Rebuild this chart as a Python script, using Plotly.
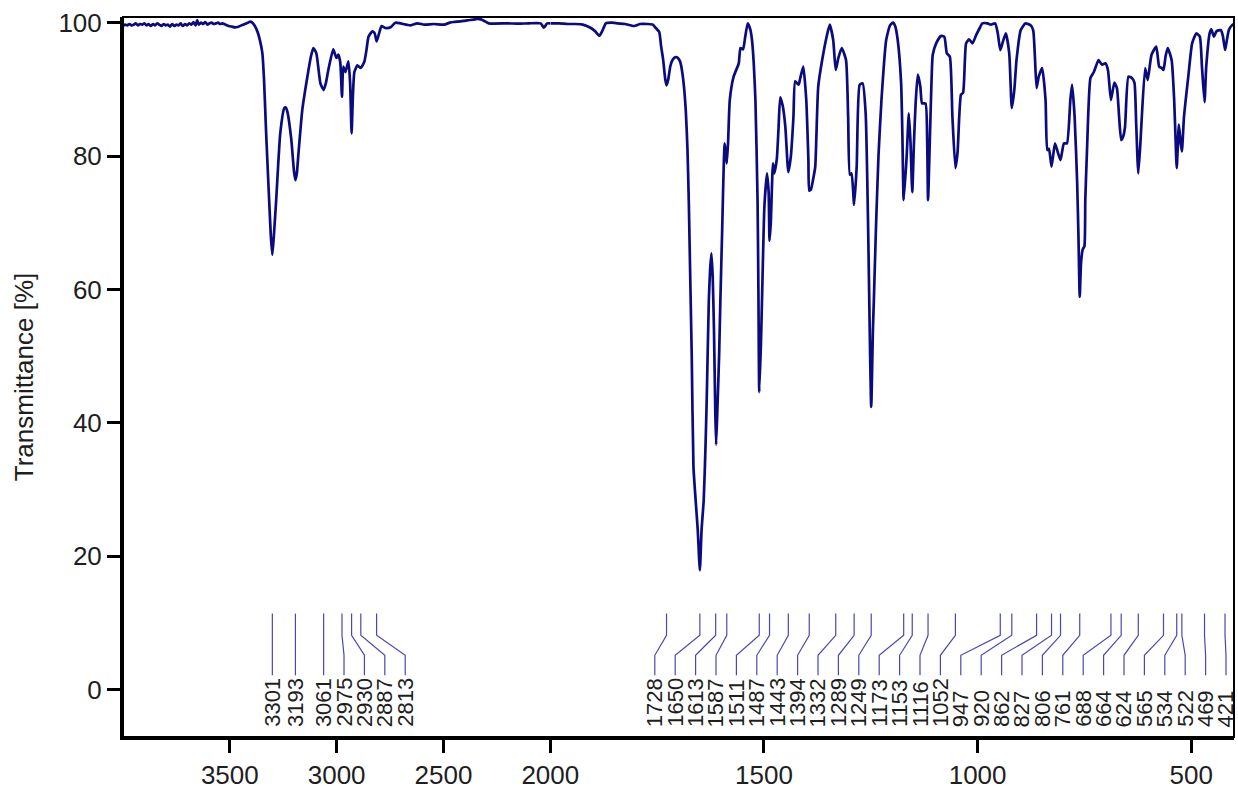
import plotly.graph_objects as go

# ---- spectrum (wavenumber in cm-1, transmittance in %) ----
wavenumber = [
    4000, 3990, 3980, 3970, 3960, 3950, 3940, 3930, 3920, 3910, 3900, 3890, 3880, 3870,
    3860, 3850, 3840, 3830, 3820, 3810, 3800, 3790, 3780, 3770, 3760, 3750, 3740, 3730,
    3720, 3710, 3700, 3690, 3680, 3670, 3660, 3653, 3645, 3635, 3625, 3615, 3605, 3595,
    3585, 3575, 3565, 3555, 3545, 3535, 3520, 3505, 3490, 3475, 3460, 3445, 3430, 3415,
    3405, 3395, 3385, 3375, 3367, 3358, 3348, 3340, 3330, 3316, 3308, 3301, 3294, 3283,
    3264, 3245, 3238, 3231, 3212, 3200, 3193, 3186, 3180, 3161, 3137, 3120, 3109, 3095,
    3076, 3061, 3050, 3039, 3016, 3001, 2992, 2983, 2975, 2969, 2959, 2945, 2937, 2930,
    2924, 2917, 2903, 2887, 2870, 2860, 2851, 2833, 2822, 2813, 2803, 2790, 2772, 2748,
    2725, 2701, 2654, 2623, 2590, 2545, 2498, 2470, 2452, 2420, 2389, 2360, 2342, 2325,
    2311, 2288, 2200, 2150, 2100, 2045, 2030, 2015, 2000,
    1980, 1959, 1940, 1924, 1905, 1895, 1885, 1878, 1870, 1855, 1842, 1825, 1804, 1790,
    1772, 1760, 1753, 1745, 1741, 1736, 1731, 1728, 1724, 1719, 1714, 1708, 1703, 1698,
    1695, 1689, 1683, 1679, 1676, 1672, 1669, 1665, 1660, 1655, 1650, 1646, 1641, 1637,
    1634, 1629, 1626, 1623, 1620, 1617, 1614, 1612, 1609, 1605, 1602, 1598, 1592, 1589,
    1587, 1584, 1580, 1571, 1559, 1555, 1549, 1544, 1538, 1532, 1528, 1524, 1520, 1515,
    1513, 1511, 1507, 1504, 1499, 1493, 1489, 1487, 1484, 1479, 1476, 1470, 1466, 1462,
    1456, 1450, 1443, 1437, 1431, 1427, 1419, 1415, 1408, 1401, 1396, 1394, 1390, 1385,
    1380, 1373, 1361, 1353, 1346, 1338, 1332, 1326, 1318, 1308, 1303, 1299, 1295, 1289,
    1283, 1276, 1269, 1262, 1256, 1253, 1249, 1245, 1243, 1238, 1232, 1225, 1214, 1205,
    1198, 1193, 1187, 1179, 1176, 1173, 1166, 1161, 1157, 1153, 1149, 1145, 1140, 1134,
    1130, 1122, 1118, 1116, 1112, 1108, 1105, 1097, 1086, 1078, 1072, 1065, 1059, 1052,
    1047, 1043, 1039, 1034, 1027, 1020, 1012, 1003, 995, 989, 977, 969, 959, 953,
    947, 942, 934, 926, 920, 914, 909, 899, 888, 876, 870, 866, 862, 857,
    849, 841, 837, 833, 827, 819, 812, 806, 798, 791, 783, 779, 773, 767,
    764, 761, 758, 754, 750, 748, 744, 736, 728, 717, 709, 701, 695, 688,
    680, 674, 669, 664, 659, 655, 647, 639, 633, 629, 624, 619, 617, 608,
    602, 593, 582, 575, 569, 565, 560, 555, 546, 540, 537, 534, 529, 525,
    522, 517, 507, 498, 488, 480, 475, 469, 465, 457, 453, 447, 441, 431,
    426, 421, 418, 412, 405, 400,
]
transmittance = [
    99.5, 99.7, 99.6, 99.8, 99.6, 99.7, 99.9, 99.6, 99.8, 99.7, 99.9, 99.6, 99.8, 99.5,
    99.8, 99.6, 99.9, 99.7, 99.5, 99.8, 99.6, 99.7, 99.4, 99.8, 99.5, 99.7, 99.6, 99.9,
    99.5, 99.8, 99.6, 99.9, 99.7, 100.1, 99.6, 100.4, 99.7, 100.0, 99.8, 100.1, 99.7, 99.9,
    100.0, 99.8, 99.9, 100.0, 99.8, 99.9, 99.7, 99.5, 99.4, 99.3, 99.4, 99.6, 99.8, 100.0,
    100.15, 100.0, 99.6, 99.0, 98.3, 97.2, 95.5, 91.5, 83.4, 73.4, 68.0, 65.2, 68.0, 73.4,
    83.4, 87.2, 87.3, 86.7, 82.4, 77.8, 76.4, 77.5, 79.9, 86.9, 91.9, 95.0, 96.2, 95.4,
    90.9, 89.9, 91.0, 92.9, 96.0, 94.7, 95.2, 94.0, 88.9, 93.4, 92.6, 94.2, 91.0, 83.4,
    89.0, 92.6, 93.6, 93.2, 94.2, 96.0, 97.9, 98.7, 98.4, 97.2, 98.2, 99.5, 99.2, 99.3,
    100.0, 99.9, 99.6, 99.9, 99.7, 99.8, 99.7, 100.0, 100.1, 100.2, 100.35, 100.45, 100.55, 100.5,
    100.3, 99.9, 99.9, 99.85, 99.9, 99.9, 99.25, 99.9, 99.9,
    99.9, 99.8, 99.8, 99.7, 99.2, 98.7, 98.05, 98.8, 99.9, 100.0, 99.9, 99.8, 99.5, 99.8,
    99.8, 99.7, 99.2, 98.6, 96.6, 94.5, 91.5, 90.6, 91.5, 93.5, 94.4, 94.8, 94.8, 94.4,
    93.9, 91.5, 86.9, 81.0, 73.4, 60.0, 50.0, 33.4, 28.5, 24.0, 17.9, 24.0, 28.4, 36.0,
    43.4, 58.4, 63.0, 65.4, 62.0, 54.0, 42.0, 36.7, 42.0, 50.0, 58.4, 68.4, 81.9, 80.5,
    78.9, 82.0, 88.4, 91.9, 93.9, 96.2, 96.0, 97.8, 99.9, 99.0, 97.4, 94.0, 88.4, 73.4,
    60.0, 44.6, 52.0, 60.0, 72.4, 77.4, 74.5, 67.3, 70.0, 78.9, 77.4, 79.5, 84.0, 88.8,
    87.5, 84.4, 77.6, 80.0, 85.9, 91.2, 90.7, 91.7, 93.4, 88.4, 79.4, 74.8, 75.0, 76.5,
    78.4, 90.4, 95.4, 98.0, 99.7, 97.4, 92.9, 94.7, 96.2, 94.4, 85.9, 77.2, 77.4, 72.7,
    78.4, 90.7, 90.9, 86.4, 68.4, 56.0, 42.4, 54.0, 58.0, 69.0, 80.0, 88.4, 97.4, 99.6,
    100.0, 99.5, 97.4, 90.9, 83.0, 73.4, 80.0, 86.4, 82.0, 74.6, 82.0, 88.0, 92.2, 90.4,
    87.9, 87.9, 82.0, 73.4, 82.0, 91.0, 95.2, 96.9, 98.0, 97.9, 95.4, 94.9, 85.9, 78.2,
    80.5, 85.9, 89.2, 89.5, 96.9, 97.5, 96.9, 98.2, 99.2, 99.9, 99.9, 99.7, 99.9, 98.5,
    95.9, 96.9, 98.4, 95.4, 87.2, 90.0, 94.4, 98.9, 99.9, 99.6, 98.9, 95.0, 90.2, 91.9,
    93.2, 88.4, 80.9, 81.1, 78.4, 81.9, 80.5, 79.4, 81.9, 81.9, 88.4, 90.7, 85.9, 75.9,
    68.0, 58.9, 64.0, 66.0, 66.5, 73.4, 80.9, 91.7, 92.6, 94.4, 93.7, 93.9, 92.9, 88.4,
    91.0, 90.2, 86.0, 82.4, 83.0, 84.4, 91.9, 91.7, 91.0, 85.0, 77.4, 82.0, 84.4, 93.2,
    91.4, 95.2, 96.4, 93.4, 93.2, 92.9, 95.0, 96.2, 94.4, 88.4, 83.0, 78.2, 84.7, 82.0,
    80.7, 85.9, 91.9, 96.9, 98.4, 97.9, 93.4, 88.1, 93.4, 98.4, 99.0, 97.9, 98.7, 98.9,
    98.0, 95.9, 96.9, 98.9, 99.6, 99.8,
]

# ---- annotated band positions (cm-1) ----
peak_wavenumbers = [
    3301, 3193, 3061, 2975, 2930, 2887, 2813,
    1728, 1650, 1613, 1587, 1511, 1487, 1443, 1394, 1332, 1289, 1249, 1173, 1153,
    1116, 1052, 947, 920, 862, 827, 806, 761, 688, 664, 624, 565, 534, 522, 469, 421,
]

x_ticks_high = [3500, 3000, 2500, 2000]
x_ticks_low = [1500, 1000, 500]
y_ticks = [0, 20, 40, 60, 80, 100]

# ---- geometry ----
W, H = 1238, 793
M_L, M_R, M_T, M_B = 123, 4, 17, 56
X_MAX, SPLIT, X_MIN = 4000, 2000, 400
EXPAND = 2                     # region below SPLIT is drawn with doubled scale
Y_RANGE = [-7.1, 100.85]

span_high = X_MAX - SPLIT
span_low = (SPLIT - X_MIN) * EXPAND
split_frac = span_high / (span_high + span_low)
units_per_px = (span_high + span_low) / (W - M_L - M_R)

LINE_COLOR = "#0b0b80"
LEADER_COLOR = "rgba(40,40,165,0.85)"
TEXT_COLOR = "#1e1e1e"
FONT = "Liberation Sans, Arial, sans-serif"


def to_units(wn):
    return X_MAX - wn if wn >= SPLIT else span_high + (SPLIT - wn) * EXPAND


def from_units(u):
    return X_MAX - u if u <= span_high else SPLIT - (u - span_high) / EXPAND


# spread the band labels so that they do not overlap
gap = 20.4 * units_per_px
right_limit = (W - M_L - M_R - 8) * units_per_px
order = sorted(range(len(peak_wavenumbers)), key=lambda i: -peak_wavenumbers[i])
pos = [to_units(peak_wavenumbers[i]) for i in order]
for k in range(1, len(pos)):
    pos[k] = max(pos[k], pos[k - 1] + gap)
pos[-1] = min(pos[-1], right_limit)
for k in range(len(pos) - 2, -1, -1):
    pos[k] = min(pos[k], pos[k + 1] - gap)
label_wn = {peak_wavenumbers[i]: from_units(p) for i, p in zip(order, pos)}

# leader line levels (transmittance units)
Y_TOP, Y_BEND1, Y_BEND2, Y_BOT = 11.4, 8.15, 5.15, 2.15
Y_TEXT = -5.9

fig = go.Figure()

hi_x = [w for w in wavenumber if w >= SPLIT]
hi_y = [t for w, t in zip(wavenumber, transmittance) if w >= SPLIT]
lo_x = [w for w in wavenumber if w <= SPLIT]
lo_y = [t for w, t in zip(wavenumber, transmittance) if w <= SPLIT]

spectrum_line = dict(color=LINE_COLOR, width=2.7, shape="spline", smoothing=0.5)
fig.add_trace(go.Scatter(x=hi_x, y=hi_y, mode="lines", xaxis="x", yaxis="y",
                         line=spectrum_line, showlegend=False, hoverinfo="skip"))
fig.add_trace(go.Scatter(x=lo_x, y=lo_y, mode="lines", xaxis="x2", yaxis="y",
                         line=spectrum_line, showlegend=False, hoverinfo="skip"))

annotations = []
for side, axis in (("high", "x"), ("low", "x2")):
    lx, ly = [], []
    for wn in peak_wavenumbers:
        if (wn >= SPLIT) != (side == "high"):
            continue
        lw = label_wn[wn]
        lx += [wn, wn, lw, lw, None]
        ly += [Y_TOP, Y_BEND1, Y_BEND2, Y_BOT, None]
        annotations.append(dict(
            x=lw, y=Y_TEXT, xref=axis, yref="y", text=str(wn), textangle=-90,
            showarrow=False, xanchor="center", yanchor="bottom",
            font=dict(family=FONT, size=22, color=TEXT_COLOR),
        ))
    fig.add_trace(go.Scatter(x=lx, y=ly, mode="lines", xaxis=axis, yaxis="y",
                             line=dict(color=LEADER_COLOR, width=1.2),
                             showlegend=False, hoverinfo="skip"))

axis_common = dict(
    showgrid=False, zeroline=False, showline=True, linecolor="black", linewidth=3,
    ticks="outside", ticklen=13, tickwidth=2.5, tickcolor="black", automargin=False,
    tickfont=dict(family=FONT, size=26, color=TEXT_COLOR),
)

fig.update_layout(
    width=W, height=H,
    margin=dict(l=M_L, r=M_R, t=M_T, b=M_B, autoexpand=False),
    paper_bgcolor="white", plot_bgcolor="white",
    showlegend=False,
    xaxis=dict(domain=[0, split_frac], range=[X_MAX, SPLIT], anchor="y",
               tickvals=x_ticks_high, ticktext=[str(v) for v in x_ticks_high],
               **axis_common),
    xaxis2=dict(domain=[split_frac, 1], range=[SPLIT, X_MIN], anchor="y",
                tickvals=x_ticks_low, ticktext=[str(v) for v in x_ticks_low],
                **axis_common),
    yaxis=dict(range=Y_RANGE, tickvals=y_ticks, anchor="x",
               title=dict(text="Transmittance [%]", standoff=18,
                          font=dict(family=FONT, size=26, color=TEXT_COLOR)),
               **axis_common),
    annotations=annotations,
    shapes=[dict(type="rect", xref="paper", yref="paper", x0=0, x1=1, y0=0, y1=1,
                 line=dict(color="black", width=2), layer="above")],
)

fig.write_html("out.html")
